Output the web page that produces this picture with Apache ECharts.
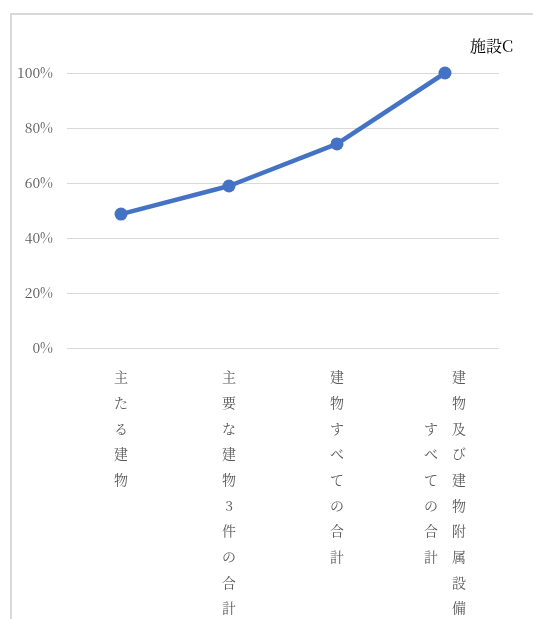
<!DOCTYPE html>
<html>
<head>
<meta charset="utf-8">
<script src="https://cdn.jsdelivr.net/npm/echarts@6/dist/echarts.min.js"></script>
<style>
  html, body { margin: 0; padding: 0; background: #fff; }
  #chart { width: 533px; height: 619px; }
</style>
</head>
<body>
<div id="chart"></div>
<script>
// Cumulative share by building group (施設C)
const categories = [
  '主たる建物',
  '主要な建物3件の合計',
  '建物すべての合計',
  '建物及び建物附属設備すべての合計'
];
const seriesName = '施設C';
const values = [48.7, 58.9, 74.2, 100];
const yTicks = [0, 20, 40, 60, 80, 100];

const SERIF = '"Noto Serif CJK JP", "Liberation Serif", "DejaVu Serif", "Noto Sans CJK JP", serif';
const COLUMN_CHARS = 10;

// Vertical (tategaki) label: characters stacked top to bottom, columns of
// up to COLUMN_CHARS running right to left; shorter columns are centred.
function verticalLabel(text) {
  const chars = Array.from(text);
  const cols = [];
  for (let i = 0; i < chars.length; i += COLUMN_CHARS) {
    cols.push(chars.slice(i, i + COLUMN_CHARS));
  }
  const rows = Math.max(...cols.map(c => c.length));
  const padded = cols.map(c => {
    const off = Math.floor((rows - c.length) / 2);
    const out = new Array(rows).fill('　');
    c.forEach((ch, k) => { out[off + k] = ch; });
    return out;
  });
  const lines = [];
  for (let r = 0; r < rows; r++) {
    let line = '';
    for (let k = padded.length - 1; k >= 0; k--) {
      line += '{c|' + padded[k][r] + '}';
    }
    lines.push(line);
  }
  return lines.join('\n');
}

const chart = echarts.init(document.getElementById('chart'), null, { renderer: 'canvas' });

chart.setOption({
  animation: false,
  backgroundColor: '#ffffff',
  graphic: [{
    type: 'rect',
    shape: { x: 11, y: 14, width: 620, height: 700 },
    style: { fill: 'none', stroke: '#d9d9d9', lineWidth: 2 },
    silent: true,
    z: -1
  }],
  title: {
    text: seriesName,
    right: 15,
    top: 33,
    textStyle: { fontFamily: SERIF, fontSize: 16, fontWeight: 'normal', color: '#000000' }
  },
  grid: {
    left: 67, right: 34, top: 73, bottom: 271,
    containLabel: false,
    outerBoundsMode: 'none'
  },
  xAxis: {
    type: 'category',
    data: categories,
    boundaryGap: true,
    axisLine: { show: false },
    axisTick: { show: false },
    axisLabel: {
      interval: 0,
      margin: 16,
      formatter: verticalLabel,
      rich: {
        c: {
          width: 28,
          align: 'center',
          lineHeight: 25.7,
          fontSize: 14,
          fontFamily: SERIF,
          color: '#595959'
        }
      }
    }
  },
  yAxis: {
    type: 'value',
    min: 0,
    max: 100,
    interval: 20,
    axisLine: { show: false },
    axisTick: { show: false },
    splitLine: { lineStyle: { color: '#d9d9d9', width: 1 } },
    axisLabel: {
      margin: 14,
      fontSize: 14,
      fontFamily: SERIF,
      color: '#595959',
      formatter: v => (yTicks.includes(v) ? v + '%' : '')
    }
  },
  series: [{
    name: seriesName,
    type: 'line',
    data: values,
    symbol: 'circle',
    symbolSize: 13,
    lineStyle: { color: '#4472c4', width: 4.5 },
    itemStyle: { color: '#4472c4' }
  }]
});
</script>
</body>
</html>
